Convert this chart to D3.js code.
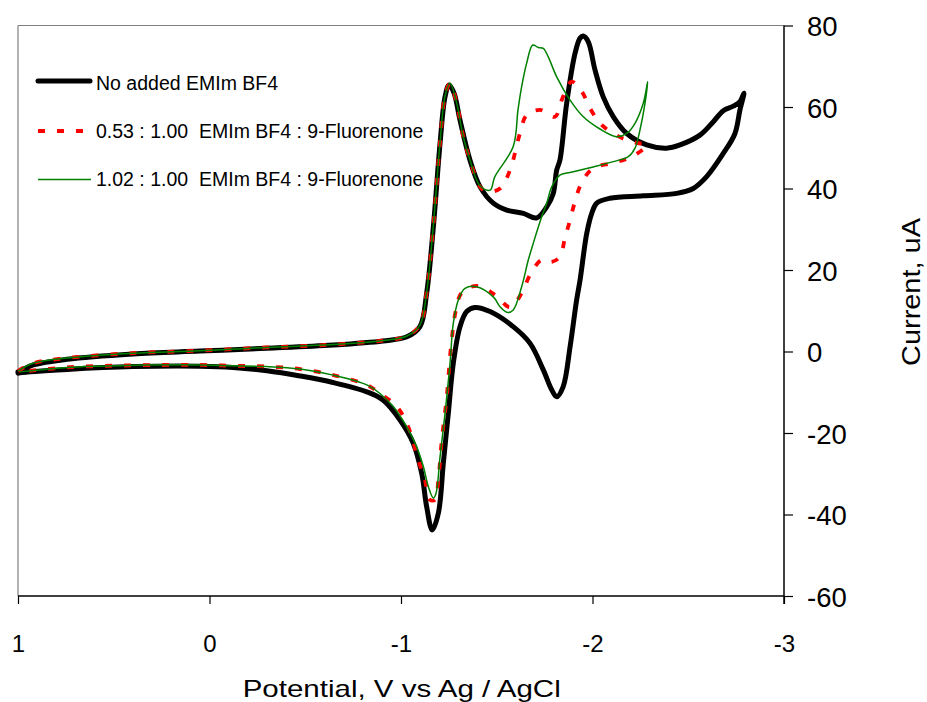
<!DOCTYPE html>
<html>
<head>
<meta charset="utf-8">
<script src="https://cdn.jsdelivr.net/npm/d3@7/dist/d3.min.js"></script>
<style>
  html, body { margin: 0; padding: 0; background: #fff; }
  svg { display: block; font-family: "Liberation Sans", Arial, sans-serif; }
</style>
</head>
<body>
<svg id="chart" width="927" height="702"></svg>
<script>
// ---------- data (Potential V, Current uA) ----------
const xTicks = [1, 0, -1, -2, -3];
const yTicks = [80, 60, 40, 20, 0, -20, -40, -60];
const seriesNames = [
  "No added EMIm BF4",
  "0.53 : 1.00  EMIm BF4 : 9-Fluorenone",
  "1.02 : 1.00  EMIm BF4 : 9-Fluorenone"
];

const noAdded = [
  [1.00,-5.0],[0.99,-4.8],[0.92,-3.3],[0.744,-1.9],[0.40,-0.6],[0.05,0.1],[-0.30,0.8],
  [-0.645,1.6],[-0.906,2.6],[-1.031,3.6],[-1.099,6.1],[-1.134,14.3],[-1.169,30.6],
  [-1.204,51.1],[-1.230,62.5],[-1.251,65.4],[-1.277,63.4],[-1.308,56.8],[-1.360,47.0],
  [-1.413,40.4],[-1.482,36.4],[-1.552,34.7],[-1.639,33.9],[-1.709,32.8],[-1.761,35.5],
  [-1.795,38.8],[-1.813,44.5],[-1.830,47.0],[-1.865,60.9],[-1.909,73.2],[-1.935,76.9],
  [-1.952,77.4],[-1.978,76.0],[-2.013,69.1],[-2.056,62.5],[-2.109,57.6],[-2.179,53.5],
  [-2.283,50.7],[-2.387,49.9],[-2.457,50.7],[-2.561,53.1],[-2.631,56.4],[-2.683,59.1],
  [-2.735,60.2],[-2.770,61.3],[-2.791,63.4],
  [-2.770,59.3],[-2.744,53.5],[-2.683,48.6],[-2.596,42.9],[-2.526,40.0],[-2.440,38.8],
  [-2.265,38.2],[-2.091,37.6],[-2.022,36.4],[-1.996,33.9],[-1.970,29.0],[-1.935,17.5],
  [-1.917,12.6],[-1.883,1.2],[-1.847,-8.6],[-1.813,-11.1],[-1.787,-9.4],[-1.743,-4.5],
  [-1.674,2.0],[-1.586,6.1],[-1.465,9.8],[-1.386,10.8],[-1.343,9.8],[-1.308,6.1],
  [-1.273,-2.9],[-1.247,-15.2],[-1.221,-27.4],[-1.195,-39.7],[-1.163,-43.8],[-1.134,-38.1],
  [-1.108,-29.9],[-1.064,-22.5],[-0.995,-16.8],[-0.906,-11.9],[-0.822,-9.9],[-0.645,-7.6],
  [-0.473,-6.0],[-0.300,-4.7],[-0.123,-3.9],[0.050,-3.6],[0.399,-3.7],[0.744,-4.4],
  [0.990,-5.2],[1.00,-5.3]
];

const ratio053 = [
  [1.00,-4.8],[0.922,-2.9],[0.744,-1.6],[0.399,-0.4],[0.050,0.2],[-0.300,1.0],[-0.645,1.7],
  [-0.906,2.7],[-1.031,3.8],[-1.099,6.5],[-1.134,14.6],[-1.169,31.0],[-1.204,51.4],
  [-1.230,62.7],[-1.256,65.8],[-1.291,60.9],[-1.325,52.7],[-1.360,47.0],[-1.413,40.4],
  [-1.448,39.2],[-1.517,40.0],[-1.569,44.5],[-1.621,53.5],[-1.656,58.0],[-1.726,59.3],
  [-1.804,57.6],[-1.839,61.7],[-1.891,66.2],[-1.944,63.8],[-1.987,59.7],[-2.048,55.6],
  [-2.144,52.6],[-2.231,51.2],[-2.283,50.7],
  [-2.205,47.8],[-2.109,46.3],[-2.004,45.0],[-1.944,41.5],[-1.909,36.9],[-1.883,32.3],
  [-1.856,27.8],[-1.830,23.3],[-1.787,22.0],[-1.735,22.5],[-1.674,18.8],[-1.630,14.3],
  [-1.569,10.9],[-1.491,13.9],[-1.395,16.1],[-1.317,14.4],[-1.287,10.2],[-1.261,1.2],
  [-1.239,-11.1],[-1.213,-21.7],[-1.195,-31.5],[-1.178,-36.4],[-1.151,-36.4],[-1.125,-31.5],
  [-1.090,-26.6],[-1.038,-18.5],[-0.978,-13.5],[-0.890,-10.3],[-0.821,-8.2],[-0.646,-5.8],
  [-0.473,-4.3],[-0.299,-3.7],[-0.123,-3.5],[0.050,-3.3],[0.399,-3.4],[0.744,-3.9],[0.990,-5.0]
];

const ratio102 = [
  [1.00,-4.8],[0.922,-2.9],[0.744,-1.6],[0.399,-0.4],[0.050,0.2],[-0.300,1.0],[-0.645,1.7],
  [-0.906,2.7],[-1.031,3.8],[-1.099,6.5],[-1.134,14.6],[-1.169,31.0],[-1.204,51.4],
  [-1.230,62.7],[-1.256,65.8],[-1.291,60.9],[-1.325,52.7],[-1.360,47.0],[-1.413,40.6],
  [-1.465,39.6],[-1.490,42.9],[-1.586,50.3],[-1.611,59.3],[-1.630,65.0],[-1.656,70.7],
  [-1.688,75.2],[-1.717,74.6],[-1.743,74.4],[-1.769,72.3],[-1.813,67.4],[-1.883,61.7],
  [-1.952,57.6],[-2.039,54.6],[-2.126,52.7],[-2.179,53.5],[-2.222,56.0],[-2.265,60.9],
  [-2.288,66.2],
  [-2.274,60.9],[-2.248,54.4],[-2.222,49.9],[-2.187,47.8],[-2.109,46.6],[-2.004,45.3],
  [-1.900,44.1],[-1.830,43.3],[-1.787,40.4],[-1.761,36.4],[-1.735,33.1],[-1.691,26.6],
  [-1.665,22.5],[-1.630,15.9],[-1.586,10.2],[-1.556,9.6],[-1.517,11.0],[-1.482,13.4],
  [-1.395,15.9],[-1.334,15.5],[-1.299,12.6],[-1.273,6.9],[-1.256,-2.9],[-1.230,-15.2],
  [-1.204,-25.8],[-1.183,-34.8],[-1.169,-36.0],[-1.143,-33.2],[-1.117,-28.3],[-1.082,-23.4],
  [-1.030,-18.5],[-0.960,-13.5],[-0.890,-10.3],[-0.821,-8.2],[-0.646,-5.8],[-0.473,-4.3],
  [-0.299,-3.7],[-0.123,-3.5],[0.050,-3.3],[0.399,-3.4],[0.744,-3.9],[0.990,-5.0]
];

// ---------- layout ----------
const svg = d3.select("#chart");
const pL = 18, pR = 784, pT = 25.5, pB = 596;
const x = d3.scaleLinear().domain([1, -3]).range([pL, pR]);
const y = d3.scaleLinear().domain([-60, 80]).range([pB, pT]);

svg.append("rect").attr("width", 927).attr("height", 702).attr("fill", "#fff");

// frame (top and left grey)
svg.append("line").attr("x1", pL).attr("x2", pR).attr("y1", pT).attr("y2", pT)
  .attr("stroke", "#808080").attr("stroke-width", 1.2);
svg.append("line").attr("x1", pL).attr("x2", pL).attr("y1", pT).attr("y2", pB)
  .attr("stroke", "#808080").attr("stroke-width", 1.2);

// series
const line = d3.line().x(d => x(d[0])).y(d => y(d[1])).curve(d3.curveCatmullRom.alpha(0.5));
const g = svg.append("g");
g.append("path").datum(noAdded).attr("d", line).attr("fill", "none")
  .attr("stroke", "#000").attr("stroke-width", 5).attr("stroke-linejoin", "round").attr("stroke-linecap", "round");
g.append("path").datum(ratio053).attr("d", line).attr("fill", "none")
  .attr("stroke", "#ff0000").attr("stroke-width", 3.8).attr("stroke-dasharray", "7,12");
g.append("path").datum(ratio102).attr("d", line).attr("fill", "none")
  .attr("stroke", "#008000").attr("stroke-width", 1.5).attr("stroke-linejoin", "round");

// axes
const fmt = d => d < 0 ? "-" + Math.abs(d) : String(d);
const xAxis = d3.axisBottom(x).tickValues(xTicks).tickSize(8).tickSizeOuter(0).tickPadding(31)
  .tickFormat(fmt);
const gx = svg.append("g").attr("transform", `translate(0,${pB})`).call(xAxis);
gx.select(".domain").remove();
gx.selectAll("line").attr("stroke", "#000").attr("stroke-width", 1.2);
gx.selectAll("text").attr("font-size", 24).attr("fill", "#000")
  .attr("font-family", "Liberation Sans, Arial, sans-serif");

const yAxis = d3.axisRight(y).tickValues(yTicks).tickSize(9).tickSizeOuter(0).tickPadding(14)
  .tickFormat(fmt);
const gy = svg.append("g").attr("transform", `translate(${pR},0)`).call(yAxis);
gy.select(".domain").remove();
gy.selectAll("line").attr("stroke", "#000").attr("stroke-width", 1.2);
gy.selectAll("text").attr("font-size", 27.5).attr("fill", "#000").attr("dy", "0.37em")
  .attr("font-family", "Liberation Sans, Arial, sans-serif");

// axis lines (black)
svg.append("line").attr("x1", pL).attr("x2", pR).attr("y1", pB).attr("y2", pB)
  .attr("stroke", "#000").attr("stroke-width", 1.5);
svg.append("line").attr("x1", pR).attr("x2", pR).attr("y1", pT).attr("y2", pB + 8)
  .attr("stroke", "#000").attr("stroke-width", 1.5);

// titles
svg.append("text").attr("x", 401.7).attr("y", 697).attr("text-anchor", "middle")
  .attr("font-size", 24).attr("textLength", 318).attr("lengthAdjust", "spacingAndGlyphs")
  .text("Potential, V vs Ag / AgCl");
svg.append("text").attr("transform", "translate(920,292) rotate(-90)").attr("text-anchor", "middle")
  .attr("font-size", 25).attr("textLength", 148).attr("lengthAdjust", "spacingAndGlyphs")
  .text("Current, uA");

// legend
const legY = [81, 131, 179.5];
const legBase = [90, 138.3, 186];
const leg = svg.append("g");
leg.append("line").attr("x1", 38).attr("x2", 90).attr("y1", legY[0]).attr("y2", legY[0])
  .attr("stroke", "#000").attr("stroke-width", 5).attr("stroke-linecap", "round");
leg.append("line").attr("x1", 38).attr("x2", 91).attr("y1", legY[1]).attr("y2", legY[1])
  .attr("stroke", "#ff0000").attr("stroke-width", 3.8).attr("stroke-dasharray", "7,12");
leg.append("line").attr("x1", 38).attr("x2", 91).attr("y1", legY[2]).attr("y2", legY[2])
  .attr("stroke", "#008000").attr("stroke-width", 1.5);
seriesNames.forEach((s, i) => {
  leg.append("text").attr("x", 96).attr("y", legBase[i]).attr("font-size", 19.5)
    .attr("fill", "#000").style("white-space", "pre").attr("xml:space", "preserve").text(s);
});
</script>
</body>
</html>
